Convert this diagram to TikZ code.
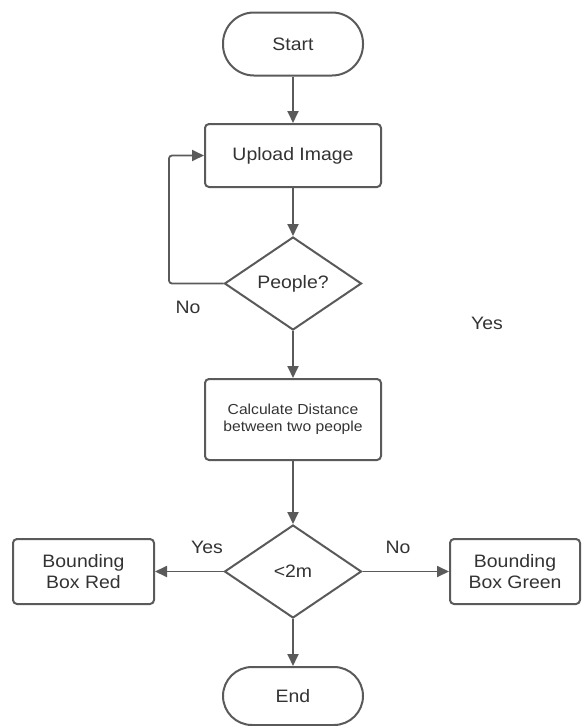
\documentclass[tikz,border=0pt]{standalone}
\usepackage{fontspec}
\setmainfont[FakeStretch=1.08]{Liberation Sans}
\usetikzlibrary{shapes.geometric,arrows.meta}
\definecolor{ln}{HTML}{5A5A5A}
\definecolor{tx}{HTML}{333333}
\begin{document}
\begin{tikzpicture}[x=1pt,y=-1pt,
  every node/.style={text=tx,font=\fontsize{18}{21}\selectfont},
  term/.style={draw=ln,line width=2pt,rounded corners=31pt,minimum width=140pt,minimum height=63pt,inner sep=0pt},
  proc/.style={draw=ln,line width=2pt,rounded corners=4pt,minimum width=176pt,inner sep=0pt,align=center},
  dec/.style={draw=ln,line width=2pt,diamond,aspect=1.47,minimum width=137pt,minimum height=93pt,inner sep=0pt},
  side/.style={draw=ln,line width=2pt,rounded corners=4pt,inner sep=0pt,minimum height=65pt,align=center},
  arr/.style={draw=ln,line width=1.8pt,-{Triangle[length=12pt,width=11pt]}},
  lbl/.style={text=tx}]
\useasboundingbox (0,0) rectangle (582,726);
\node[term] (start) at (293,44) {Start};
\node[proc,minimum height=63pt] (upload) at (293,155.5) {Upload Image};
\node[dec] (people) at (293,283.5) {People?};
\node[proc,minimum height=81pt,font=\fontsize{14.5}{17}\selectfont] (calc) at (293,419.5) {Calculate Distance\\between two people};
\node[dec] (dist) at (293,571.5) {<2m};
\node[side,minimum width=141pt] (red) at (83.5,571.5) {Bounding\\Box Red};
\node[side,minimum width=130pt] (green) at (515,571.5) {Bounding\\Box Green};
\node[term,minimum height=58pt,rounded corners=29pt] (end) at (293,696) {End};
\coordinate (loop) at (169,283.5);
\draw[arr] (start) -- (upload);
\draw[arr] (upload) -- (people);
\draw[arr,rounded corners=3pt] (people.west) -- (loop) |- (upload.west);
\draw[arr] (people) -- (calc);
\draw[arr] (calc) -- (dist);
\draw[arr] (dist.west) -- (red.east);
\draw[arr] (dist.east) -- (green.west);
\draw[arr] (dist.south) -- (end.north);
\node[lbl] (no1) at (188,307) {No};
\node[lbl] (yes1) at (487,323) {Yes};
\node[lbl] (yes2) at (207,547) {Yes};
\node[lbl] (no2) at (398,547) {No};
\end{tikzpicture}
\end{document}
